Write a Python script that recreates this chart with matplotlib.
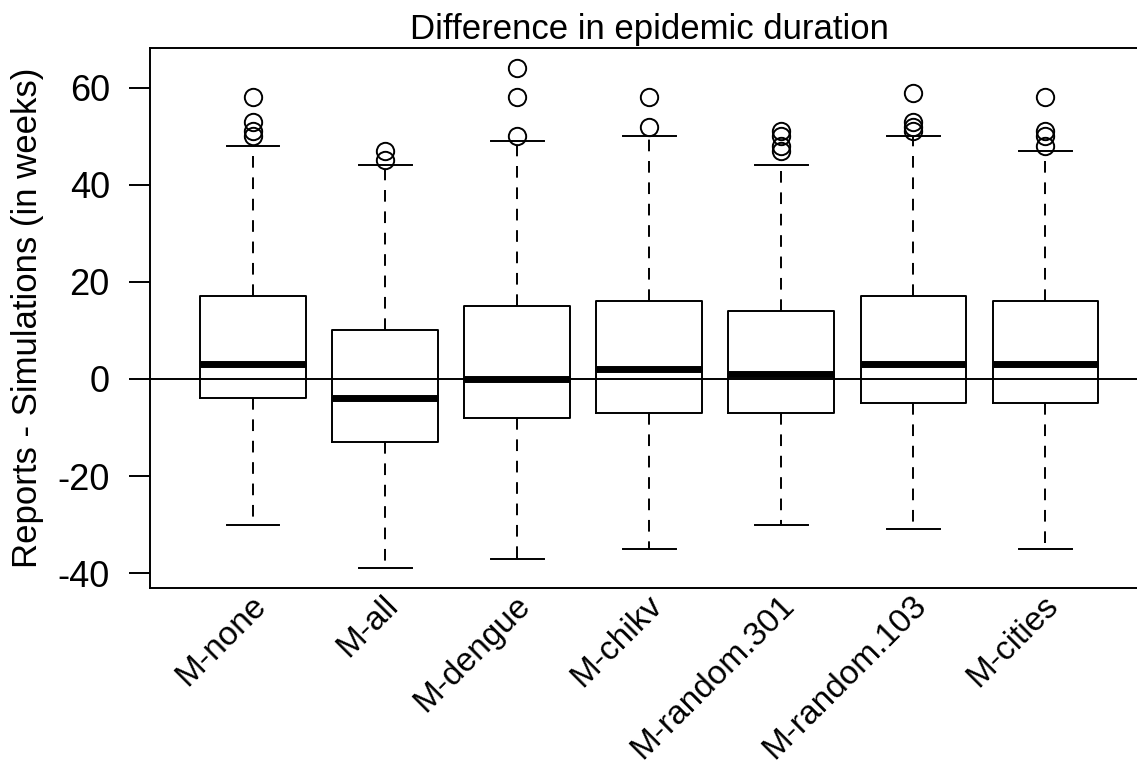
import numpy as np
import matplotlib
matplotlib.use("Agg")
import matplotlib.pyplot as plt
import matplotlib.transforms as mtransforms

plt.rcParams['font.family'] = ['Liberation Sans', 'DejaVu Sans']

models = ['M-none', 'M-all', 'M-dengue', 'M-chikv',
          'M-random.301', 'M-random.103', 'M-cities']
medians = [3, -4, 0, 2, 1, 3, 3]
q1 = [-4, -13, -8, -7, -7, -5, -5]
q3 = [17, 10, 15, 16, 14, 17, 16]
whisk_lo = [-30, -39, -37, -35, -30, -31, -35]
whisk_hi = [48, 44, 49, 50, 44, 50, 47]
outliers = [
    [58, 53, 51, 50],
    [47, 45],
    [64, 58, 50],
    [58, 52],
    [51, 50, 48, 47],
    [59, 53, 52, 51],
    [58, 51, 50, 48],
]
yticks = [-40, -20, 0, 20, 40, 60]

stats = []
for i, name in enumerate(models):
    stats.append(dict(label=name, med=medians[i], q1=q1[i], q3=q3[i],
                      whislo=whisk_lo[i], whishi=whisk_hi[i],
                      fliers=outliers[i]))

fig = plt.figure(figsize=(11.37, 7.66), dpi=100)
ax = fig.add_axes([0.132, 0.232, 0.878, 0.705])

lw = 1.4
ax.bxp(stats, positions=np.arange(1, len(models) + 1), widths=0.8,
       capwidths=0.4, patch_artist=False,
       boxprops=dict(color='black', linewidth=lw),
       medianprops=dict(color='black', linewidth=5, solid_capstyle='butt'),
       whiskerprops=dict(color='black', linewidth=lw, linestyle=(0, (6, 5))),
       capprops=dict(color='black', linewidth=lw),
       flierprops=dict(marker='o', markerfacecolor='none',
                       markeredgecolor='black', markersize=12.5,
                       markeredgewidth=1.4))

ax.axhline(0, color='black', linewidth=lw, zorder=0)

ax.set_xlim(0.22, 7.78)
ax.set_ylim(-43.12, 68.12)
ax.set_yticks(yticks)
ax.set_yticklabels([str(v) for v in yticks], fontsize=26)
ax.tick_params(axis='y', length=15, width=lw, pad=14, direction='out')
ax.set_xticks(np.arange(1, len(models) + 1))
ax.set_xticklabels(models, fontsize=24, rotation=45, ha='right',
                   va='center', rotation_mode='anchor')
ax.tick_params(axis='x', length=0, pad=9)
shift = mtransforms.ScaledTranslation(6 / 72, 0, fig.dpi_scale_trans)
for lab in ax.get_xticklabels():
    lab.set_transform(lab.get_transform() + shift)
for s in ax.spines.values():
    s.set_linewidth(lw)

ax.set_ylabel('Reports - Simulations (in weeks)', fontsize=25, labelpad=10)
ax.set_title('Difference in epidemic duration', fontsize=25, pad=7)

fig.savefig('out.png', dpi=100)
